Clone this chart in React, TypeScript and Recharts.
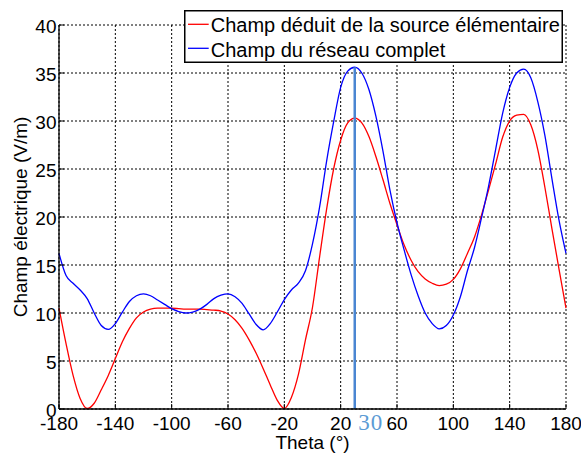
import React from "react";
import {
  LineChart,
  Line,
  XAxis,
  YAxis,
  CartesianGrid,
  Legend,
  ReferenceLine,
} from "recharts";

// angles (deg)
const theta = [
  -180, -175, -170, -165, -160, -155, -150, -145, -140, -135, -130, -125, -120,
  -115, -110, -105, -100, -95, -90, -85, -80, -75, -70, -65, -60, -55, -50, -45,
  -40, -35, -30, -25, -20, -15, -10, -5, 0, 5, 10, 15, 20, 25, 30, 35, 40, 45,
  50, 55, 60, 65, 70, 75, 80, 85, 90, 95, 100, 105, 110, 115, 120, 125, 130,
  135, 140, 145, 150, 155, 160, 165, 170, 175, 180,
];

// Champ déduit de la source élémentaire
const champSource = [
  10.5, 6.8, 3.5, 1.1, 0.05, 0.6, 2.0, 3.5, 5.25, 7.0, 8.4, 9.5, 10.1, 10.4,
  10.5, 10.5, 10.5, 10.45, 10.4, 10.4, 10.4, 10.35, 10.3, 10.2, 9.9, 9.3, 8.4,
  7.2, 5.8, 4.2, 2.5, 0.9, 0.05, 1.2, 3.6, 7.2, 10.6, 15.8, 20.8, 25.0, 28.0,
  29.8, 30.3, 29.8, 28.4, 26.3, 23.9, 21.4, 19.2, 17.1, 15.5, 14.3, 13.55, 13.1,
  12.85, 13.0, 13.5, 14.6, 16.2, 17.9, 20.2, 22.8, 25.5, 28.3, 30.0, 30.6, 30.7,
  29.6, 27.0, 23.1, 18.8, 14.6, 10.5,
];

// Champ du réseau complet
const champReseau = [
  16.2, 13.9, 13.1, 12.4, 11.5, 10.0, 8.7, 8.3, 8.9, 10.1, 11.2, 11.8, 12.0,
  11.8, 11.35, 10.9, 10.45, 10.15, 10.0, 10.1, 10.4, 10.9, 11.5, 11.85, 12.0,
  11.7, 11.0, 9.9, 8.8, 8.25, 8.9, 10.1, 11.4, 12.4, 13.1, 14.4, 17.2, 21.0,
  25.8, 29.9, 33.5, 35.2, 35.6, 35.0, 33.3, 30.5, 26.9, 22.8, 19.4, 16.6, 14.0,
  11.8, 10.0, 8.9, 8.35, 8.7, 9.8, 11.7, 14.4, 16.8, 19.9, 23.2, 27.0, 30.8,
  33.5, 35.0, 35.4, 34.5, 32.0, 28.5, 24.0, 19.7, 16.2,
];

const xTicks = [-180, -140, -100, -60, -20, 20, 60, 100, 140, 180];
const yTicks = [0, 5, 10, 15, 20, 25, 30, 35, 40];

// marked angle and its peak
const markTheta = 30;
const markTop = 35.6;

const legendLabels = [
  "Champ déduit de la source élémentaire",
  "Champ du réseau complet",
];

const data = theta.map((t, i) => ({
  theta: t,
  source: champSource[i],
  reseau: champReseau[i],
}));

const FONT = "'Liberation Sans', Arial, Helvetica, sans-serif";

const XTick = (props: any) => {
  const { x, y, payload } = props;
  return (
    <g>
      <line x1={x} x2={x} y1={y} y2={y - 5} stroke="#000" strokeWidth={1} />
      <text x={x} y={y + 21} textAnchor="middle" fontSize={19} fontFamily={FONT} fill="#000">
        {payload.value}
      </text>
    </g>
  );
};

const YTick = (props: any) => {
  const { x, y, payload } = props;
  return (
    <g>
      <line x1={x} x2={x + 5} y1={y} y2={y} stroke="#000" strokeWidth={1} />
      <text x={x - 2.5} y={y + 8} textAnchor="end" fontSize={19} fontFamily={FONT} fill="#000">
        {payload.value}
      </text>
    </g>
  );
};

const renderLegend = () => (
  <svg width={379} height={53} style={{ display: "block" }}>
    <rect x={0.75} y={0.75} width={377.5} height={51.5} fill="#fff" stroke="#000" strokeWidth={1.5} />
    <line x1={4} x2={24.7} y1={14.3} y2={14.3} stroke="#ff0000" strokeWidth={1.3} />
    <text x={26.7} y={22.3} fontSize={20} fontFamily={FONT} fill="#000">
      {legendLabels[0]}
    </text>
    <line x1={4} x2={24.7} y1={38.3} y2={38.3} stroke="#0000ff" strokeWidth={1.3} />
    <text x={26.7} y={46.7} fontSize={20} fontFamily={FONT} fill="#000">
      {legendLabels[1]}
    </text>
  </svg>
);

const MarkLabel = (props: any) => {
  const vb = props.viewBox || {};
  return (
    <text
      x={vb.x + 3.5}
      y={vb.y + vb.height + 20.5}
      fontSize={23}
      letterSpacing={1}
      fontFamily="'Liberation Serif', 'Times New Roman', serif"
      fill="#5b9bd5"
    >
      {markTheta}
    </text>
  );
};

const YLabel = (props: any) => {
  const vb = props.viewBox;
  const cx = vb.x + 26.5;
  const cy = vb.y + vb.height / 2;
  return (
    <text
      x={cx}
      y={cy}
      transform={`rotate(-90, ${cx}, ${cy})`}
      textAnchor="middle"
      fontSize={19}
      fontFamily={FONT}
      fill="#000"
    >
      Champ électrique (V/m)
    </text>
  );
};

const XLabel = (props: any) => {
  const vb = props.viewBox;
  return (
    <text
      x={vb.x + vb.width / 2}
      y={vb.y + 40}
      textAnchor="middle"
      fontSize={19}
      fontFamily={FONT}
      fill="#000"
    >
      Theta (°)
    </text>
  );
};

export default function App() {
  return (
    <div style={{ position: "absolute", left: 0, top: 0, background: "#fff" }}>
      <LineChart
        width={581}
        height={453}
        data={data}
        margin={{ top: 25, right: 15, left: 0, bottom: 14 }}
      >
        <CartesianGrid stroke="#000" strokeDasharray="2 2" strokeWidth={1} />
        <XAxis
          dataKey="theta"
          type="number"
          domain={[-180, 180]}
          ticks={xTicks}
          interval={0}
          height={30}
          tickSize={0}
          tickMargin={0}
          tickLine={false}
          tick={<XTick />}
          axisLine={{ stroke: "#000", strokeWidth: 1.3 }}
          label={<XLabel />}
        />
        <YAxis
          type="number"
          domain={[0, 40]}
          ticks={yTicks}
          interval={0}
          width={59}
          tickSize={0}
          tickMargin={0}
          tickLine={false}
          tick={<YTick />}
          axisLine={{ stroke: "#000", strokeWidth: 1.3 }}
          label={<YLabel />}
        />
        <Legend
          layout="horizontal"
          verticalAlign="middle"
          align="center"
          content={renderLegend}
          wrapperStyle={{ position: "absolute", left: 184, top: 10, width: 379, height: 53 }}
        />
        <Line
          name={legendLabels[0]}
          dataKey="source"
          type="monotone"
          stroke="#ff0000"
          strokeWidth={1.3}
          dot={false}
          activeDot={false}
          isAnimationActive={false}
        />
        <Line
          name={legendLabels[1]}
          dataKey="reseau"
          type="monotone"
          stroke="#0000ff"
          strokeWidth={1.3}
          dot={false}
          activeDot={false}
          isAnimationActive={false}
        />
        <ReferenceLine
          segment={[
            { x: markTheta, y: 0 },
            { x: markTheta, y: markTop },
          ]}
          stroke="#4a86d2"
          strokeWidth={2.5}
          label={<MarkLabel />}
        />
      </LineChart>
    </div>
  );
}
